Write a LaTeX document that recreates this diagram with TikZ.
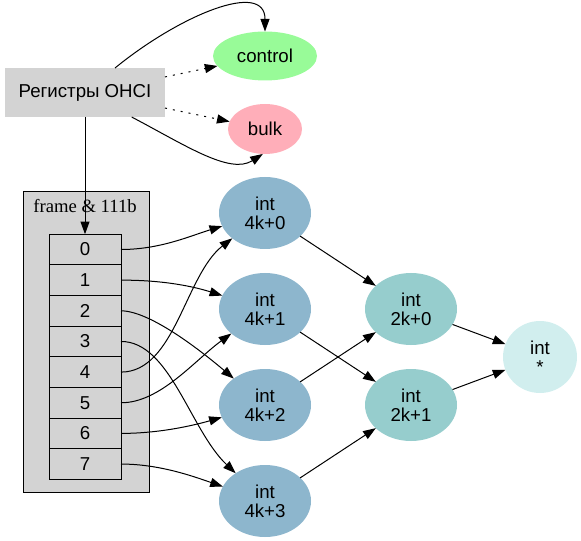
\documentclass[tikz,border=0pt]{standalone}
\usepackage{fontspec}
\setmainfont{Liberation Sans}
\newfontfamily\serifface{Liberation Serif}
\usetikzlibrary{arrows.meta,shapes.geometric}
\definecolor{regfill}{HTML}{D3D3D3}
\definecolor{ctrlfill}{HTML}{98FB98}
\definecolor{bulkfill}{HTML}{FFAEB9}
\definecolor{quadfill}{HTML}{8DB6CD}
\definecolor{halffill}{HTML}{96CDCD}
\definecolor{allfill}{HTML}{D1EEEE}
\begin{document}
\begin{tikzpicture}[x=0.75pt,y=-0.75pt,
  every node/.style={font=\fontsize{14}{14.5}\selectfont, inner sep=0pt, outer sep=0pt, align=center},
  edge/.style={draw, line width=0.75pt, -{Triangle[length=9.5pt,width=6.8pt]}},
  dottededge/.style={edge, dash pattern=on 1.5pt off 4.5pt},
  oval/.style={ellipse, draw=none, fill=#1},
  quad/.style={oval=quadfill, minimum width=69pt, minimum height=54pt},
  half/.style={oval=halffill, minimum width=69pt, minimum height=54pt},
  cell/.style={draw, line width=0.75pt, fill=regfill, minimum width=54pt, minimum height=22.99pt}
]
\useasboundingbox (0,0) rectangle (581,541);
% top nodes
\node[fill=regfill, minimum width=120pt, minimum height=36.75pt] (reg) at (85,92.5) {Регистры OHCI};
\node[oval=ctrlfill, minimum width=78pt, minimum height=36.75pt] (control) at (265,56) {control};
\node[oval=bulkfill, minimum width=55.5pt, minimum height=37.5pt] (bulk) at (265,129) {bulk};
% cluster
\node[draw, line width=0.75pt, fill=regfill, minimum width=94.5pt, minimum height=225pt] (cluster) at (86,342) {};
\node[font=\serifface\fontsize{14}{14}\selectfont] (clabel) at (85,206) {frame \& 111b};
\foreach \i in {0,...,7} {
  \node[cell] (c\i) at (85,{249.5+30.65*\i}) {\i};
}
% int nodes
\node[quad] (n0) at (265,213) {int\\4k+0};
\node[quad] (n1) at (265,309) {int\\4k+1};
\node[quad] (n2) at (265,405) {int\\4k+2};
\node[quad] (n3) at (265,501) {int\\4k+3};
\node[half] (m0) at (411,309) {int\\2k+0};
\node[half] (m1) at (411,405) {int\\2k+1};
\node[oval=allfill, minimum width=55.5pt, minimum height=54pt] (all) at (540,357) {int\\*};
% edges from registers
\draw[edge] (reg) .. controls (180,15) and (265,-20) .. (control.north);
\draw[edge] (reg) .. controls (185,145) and (230,175) .. (bulk.265);
\draw[dottededge] (reg.11.65) -- (control);
\draw[dottededge] (reg.-11) -- (bulk);
\draw[edge] (reg) -- (c0.north);
% cell edges
\draw[edge] (c0.east) .. controls (160,249.5) and (190,236) .. (n0);
\draw[edge] (c1.east) .. controls (165,280) and (195,287) .. (n1);
\draw[edge] (c2.east) .. controls (150,311) and (200,350) .. (n2);
\draw[edge] (c3.east) .. controls (170,341.5) and (190,430) .. (n3);
\draw[edge] (c4.east) .. controls (175,372) and (185,275) .. (n0);
\draw[edge] (c5.east) .. controls (160,403) and (195,360) .. (n1);
\draw[edge] (c6.east) .. controls (160,433.5) and (195,425) .. (n2);
\draw[edge] (c7.east) .. controls (160,464) and (195,477) .. (n3);
% merge edges
\draw[edge] (n0) -- (m0);
\draw[edge] (n1) -- (m1);
\draw[edge] (n2) -- (m0);
\draw[edge] (n3) -- (m1);
\draw[edge] (m0) -- (all);
\draw[edge] (m1) -- (all);
\end{tikzpicture}
\end{document}
